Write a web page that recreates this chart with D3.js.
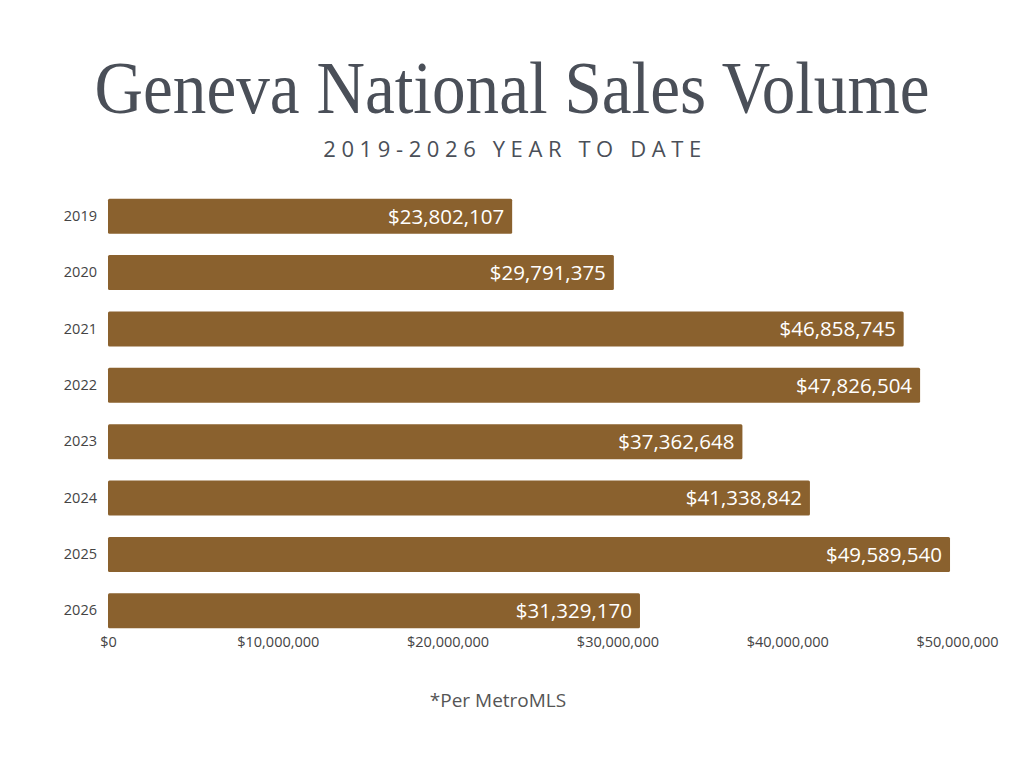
<!DOCTYPE html>
<html><head><meta charset="utf-8">
<script src="https://cdn.jsdelivr.net/npm/d3@7/dist/d3.min.js"></script>
<style>body{margin:0;background:#fff;} svg{display:block;}</style>
</head><body>
<svg id="c" width="1024" height="768"></svg>
<script>
const years = ["2019","2020","2021","2022","2023","2024","2025","2026"];
const volumes = [23802107, 29791375, 46858745, 47826504, 37362648, 41338842, 49589540, 31329170];
const xTicks = [0, 10000000, 20000000, 30000000, 40000000, 50000000];
const titleText = "Geneva National Sales Volume";
const subtitleText = "2019-2026 YEAR TO DATE";
const noteText = "*Per MetroMLS";

const svg = d3.select("#c");
const x = d3.scaleLinear().domain([0, 50000000]).range([108, 957]);
const y = d3.scaleBand().domain(years).range([188, 639]).paddingInner(0.38).paddingOuter(0.19);

svg.append("text").attr("x", 512).attr("y", 113).attr("text-anchor", "middle")
  .attr("font-family", "Liberation Serif, serif").attr("font-size", 74)
  .attr("fill", "#4a4f58").attr("textLength", 835).attr("lengthAdjust", "spacingAndGlyphs")
  .text(titleText);
svg.append("text").attr("x", 515).attr("y", 157).attr("text-anchor", "middle")
  .attr("font-family", "Open Sans, sans-serif").attr("font-size", 22)
  .attr("letter-spacing", 5.6).attr("fill", "#4a4f58").text(subtitleText);

const fmt = d3.format("$,");
svg.selectAll("rect.bar").data(years).join("rect").attr("class", "bar")
  .attr("x", x(0)).attr("y", d => y(d))
  .attr("width", (d, i) => x(volumes[i]) - x(0)).attr("height", y.bandwidth())
  .attr("rx", 1.5).attr("fill", "#8a612e");

svg.selectAll("text.val").data(years).join("text").attr("class", "val")
  .attr("x", (d, i) => x(volumes[i]) - 8).attr("y", d => y(d) + y.bandwidth() / 2)
  .attr("dy", "0.36em").attr("text-anchor", "end")
  .attr("font-family", "Open Sans, sans-serif").attr("font-size", 20.5).attr("fill", "#fff")
  .text((d, i) => fmt(volumes[i]));

const yAxis = d3.axisLeft(y).tickSize(0).tickPadding(11);
const gy = svg.append("g").attr("transform", `translate(${x(0)},0)`).call(yAxis);
gy.select(".domain").remove();
gy.selectAll("text").attr("font-family", "Open Sans, sans-serif").attr("font-size", 14.5).attr("fill", "#444");

const xAxis = d3.axisBottom(x).tickValues(xTicks).tickSize(0).tickPadding(6).tickFormat(d3.format("$,"));
const gx = svg.append("g").attr("transform", `translate(0,${y.range()[1] - 8})`).call(xAxis);
gx.select(".domain").remove();
gx.selectAll("text").attr("font-family", "Open Sans, sans-serif").attr("font-size", 14.5).attr("fill", "#444");

svg.append("text").attr("x", 498).attr("y", 707).attr("text-anchor", "middle")
  .attr("font-family", "Open Sans, sans-serif").attr("font-size", 19).attr("fill", "#555")
  .text(noteText);
</script>
</body></html>
